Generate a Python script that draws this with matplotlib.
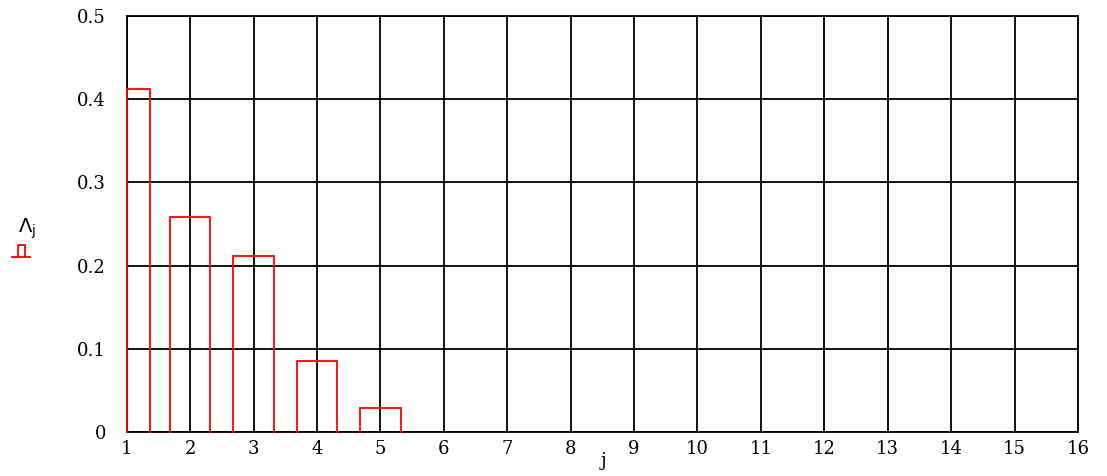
import matplotlib.pyplot as plt
import numpy as np

j_values = [1, 2, 3, 4, 5]
lambda_values = [0.412, 0.259, 0.212, 0.085, 0.029]
x_ticks = list(range(1, 17))
y_ticks = [0, 0.1, 0.2, 0.3, 0.4, 0.5]
y_tick_labels = ['0', '0.1', '0.2', '0.3', '0.4', '0.5']

BAR_WIDTH = 0.64
FONT = 'DejaVu Serif'

fig = plt.figure(figsize=(11.07, 4.76), dpi=100)
ax = fig.add_axes([0.1145, 0.093, 0.8593, 0.8728])

for j, v in zip(j_values, lambda_values):
    left = max(j - BAR_WIDTH / 2, 1)
    right = j + BAR_WIDTH / 2
    if j == 1:
        right = j + 0.36
    ax.plot([left, left, right, right], [0, v, v, 0], color='red',
            linewidth=1.3, solid_joinstyle='miter', clip_on=False, zorder=3)

ax.set_xlim(1, 16)
ax.set_ylim(0, 0.5)
ax.set_xticks(x_ticks)
ax.set_xticklabels([str(t) for t in x_ticks], fontfamily=FONT, fontsize=13)
ax.set_yticks(y_ticks)
ax.set_yticklabels(y_tick_labels, fontfamily=FONT, fontsize=13)
ax.tick_params(axis='x', length=0, pad=6)
ax.tick_params(axis='y', length=0, pad=15)
ax.grid(True, color='black', linewidth=1.3, zorder=0)
for s in ax.spines.values():
    s.set_linewidth(1.3)

fig.text(0.543, 0.022, 'j', fontfamily=FONT, fontsize=13)
fig.text(0.016, 0.512, r'$\mathrm{\Lambda}_{\mathrm{j}}$', fontsize=14)
# legend symbol for the bar trace
fig.add_artist(plt.Line2D([0.0108, 0.0271], [0.46, 0.46], color='red',
                          linewidth=1.3, transform=fig.transFigure))
fig.add_artist(plt.Line2D([0.0167, 0.0167, 0.0226, 0.0226],
                          [0.46, 0.485, 0.485, 0.46], color='red',
                          linewidth=1.3, transform=fig.transFigure))

fig.savefig('out.png', dpi=100)
